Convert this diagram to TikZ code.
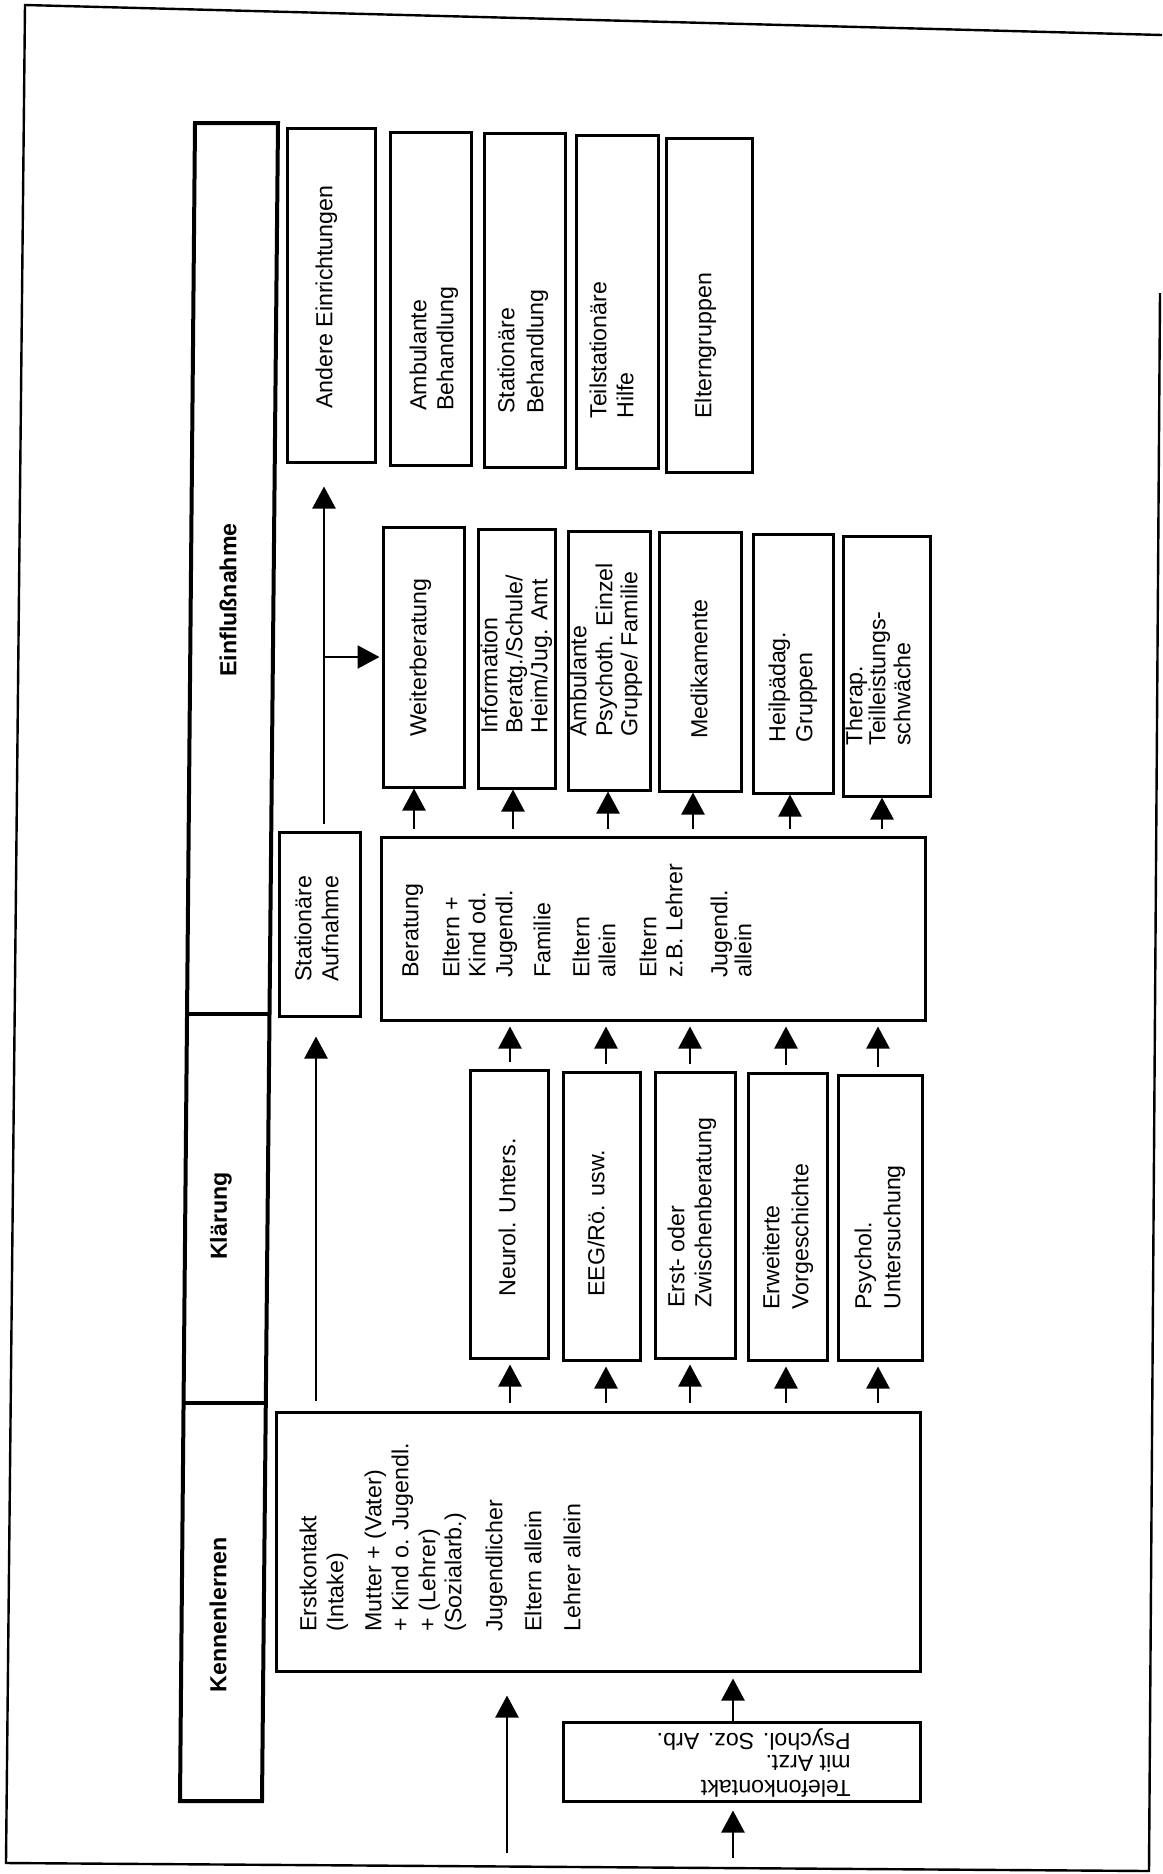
\documentclass[tikz,border=0pt]{standalone}
\usepackage{fontspec}
\setmainfont{Liberation Sans}
\usetikzlibrary{arrows.meta,fit}
\newcommand\fsz{\fontsize{11.6pt}{13.5pt}\selectfont}
\newcommand\rtx[4]{\node[rt] (#1) at (#2,#3) {#4};}
\newcommand\utx[4]{\node[ut] (#1) at (#2,#3) {#4};}
\tikzset{
  box/.style={draw, line width=1.5pt, inner sep=0pt},
  rt/.style={rotate=90, anchor=mid west, inner sep=0pt, font=\fsz},
  ut/.style={rotate=180, anchor=mid west, inner sep=0pt, font=\fsz},
  ph/.style={rotate=90, inner sep=0pt, font=\fsz\bfseries},
  arr/.style={draw, line width=1.2pt, -{Triangle[width=11.5pt,length=11pt]}},
  frame/.style={draw, line width=1.2pt},
  col/.style={draw, line width=2pt, line join=miter}
}
\begin{document}
\begin{tikzpicture}[x=0.5pt, y=-0.5pt]
\useasboundingbox (0,0) rectangle (1162,1874);
% outer frame
\draw[frame] (1162,35) -- (25,5) -- (6,1863) -- (1149,1871) -- (1160,293);
% phase column
\draw[col] (195,123) -- (278,123) -- (262,1801) -- (180,1801) -- cycle;
\draw[col] (187,1014) -- (269.5,1014);
\draw[col] (183.6,1403) -- (265.8,1403);
\node[ph] (pEin) at (228,600) {Einflußnahme};
\node[ph] (pKla) at (221,1216) {Klärung};
\node[ph] (pKen) at (218,1615) {Kennenlernen};

% top row
\node[box, fit={(287,128) (375,462)}] (andere) {};
\node[box, fit={(390,132) (471,465)}] (ambbeh) {};
\node[box, fit={(484,133) (565,467)}] (statbeh) {};
\node[box, fit={(576,135) (658,468)}] (teil) {};
\node[box, fit={(666,138) (752,472)}] (eltern) {};
\rtx{tA1}{327}{409}{Andere Einrichtungen}
\rtx{tB1}{421}{411}{Ambulante}
\rtx{tB2}{448}{411}{Behandlung}
\rtx{tC1}{509}{414}{Stationäre}
\rtx{tC2}{538}{414}{Behandlung}
\rtx{tD1}{601}{419}{Teilstationäre}
\rtx{tD2}{628}{419}{Hilfe}
\rtx{tE1}{706}{419}{Elterngruppen}

% middle row
\node[box, fit={(383,527) (464,787)}] (weiter) {};
\node[box, fit={(478,529) (555,788)}] (info) {};
\node[box, fit={(568,531) (650,790)}] (ambpsy) {};
\node[box, fit={(659,532) (741,791)}] (medi) {};
\node[box, fit={(753,534) (833,793)}] (heil) {};
\node[box, fit={(843,536) (930,796)}] (therap) {};
\rtx{tF1}{421}{737}{Weiterberatung}
\rtx{tG1}{492}{734}{Information}
\rtx{tG2}{517}{734}{Beratg./Schule/}
\rtx{tG3}{542}{734}{Heim/Jug. Amt}
\rtx{tH1}{581}{737}{Ambulante}
\rtx{tH2}{607}{737}{Psychoth. Einzel}
\rtx{tH3}{632}{737}{Gruppe/ Familie}
\rtx{tI1}{702}{739}{Medikamente}
\rtx{tJ1}{780}{743}{Heilpädag.}
\rtx{tJ2}{807}{743}{Gruppen}
\rtx{tK1}{857}{746}{Therap.}
\rtx{tK2}{880}{746}{Teilleistungs-}
\rtx{tK3}{905}{746}{schwäche}

% Stationaere Aufnahme and Beratung
\node[box, fit={(279,832) (360,1016)}] (statauf) {};
\node[box, fit={(381,837) (925,1020)}] (ber) {};
\rtx{tL1}{306}{982}{Stationäre}
\rtx{tL2}{333}{982}{Aufnahme}
\rtx{tM1}{413}{978}{Beratung}
\rtx{tM2}{454}{978}{Eltern +}
\rtx{tM3}{480}{978}{Kind od.}
\rtx{tM4}{507}{978}{Jugendl.}
\rtx{tM5}{545}{978}{Familie}
\rtx{tM6}{584}{978}{Eltern}
\rtx{tM7}{610}{978}{allein}
\rtx{tM8}{651}{978}{Eltern}
\rtx{tM9}{677}{978}{z.B. Lehrer}
\rtx{tM10}{722}{978}{Jugendl.}
\rtx{tM11}{746}{978}{allein}

% Klaerung row
\node[box, fit={(470,1070) (548,1358)}] (neuro) {};
\node[box, fit={(563,1072) (640,1360)}] (eeg) {};
\node[box, fit={(655,1072) (735,1358)}] (erst) {};
\node[box, fit={(748,1073) (827,1360)}] (erw) {};
\node[box, fit={(838,1075) (922,1360)}] (psy) {};
\rtx{tN1}{510}{1297}{Neurol. Unters.}
\rtx{tO1}{599}{1297}{EEG/Rö. usw.}
\rtx{tP1}{679}{1308}{Erst- oder}
\rtx{tP2}{706}{1308}{Zwischenberatung}
\rtx{tQ1}{774}{1310}{Erweiterte}
\rtx{tQ2}{803}{1310}{Vorgeschichte}
\rtx{tR1}{866}{1310}{Psychol.}
\rtx{tR2}{895}{1310}{Untersuchung}

% Kennenlernen
\node[box, fit={(276,1412) (920,1671)}] (ken) {};
\rtx{tS1}{311}{1632}{Erstkontakt}
\rtx{tS2}{338}{1632}{(Intake)}
\rtx{tS3}{376}{1632}{Mutter + (Vater)}
\rtx{tS4}{403}{1632}{+ Kind o. Jugendl.}
\rtx{tS5}{430}{1632}{+ (Lehrer)}
\rtx{tS6}{456}{1632}{(Sozialarb.)}
\rtx{tS7}{497}{1632}{Jugendlicher}
\rtx{tS8}{536}{1632}{Eltern allein}
\rtx{tS9}{575}{1632}{Lehrer allein}

% Telefonkontakt
\node[box, fit={(563,1722) (920,1801)}] (tel) {};
\utx{tT1}{851}{1786}{Telefonkontakt}
\utx{tT2}{851}{1761}{mit Arzt.}
\utx{tT3}{851}{1739}{Psychol. Soz. Arb.}

% arrows Beratung -> Einflussnahme boxes
\foreach \x/\n in {414/weiter, 513/info, 608/ambpsy, 693/medi, 790/heil, 882/therap}
  \draw[arr, shorten <=3.5pt] (ber.north -| \x,0) -- (\n.south -| \x,0);
% arrows Klaerung -> Beratung
\foreach \x/\n in {510/neuro, 606/eeg, 690/erst, 786/erw, 878/psy}
  \draw[arr, shorten <=3.5pt, shorten >=2.5pt] (\n.north -| \x,0) -- (ber.south -| \x,0);
% arrows Kennenlernen -> Klaerung
\foreach \x/\n in {510/neuro, 606/eeg, 690/erst, 786/erw, 878/psy}
  \draw[arr, shorten <=4pt, shorten >=2.5pt] (ken.north -| \x,0) -- (\n.south -| \x,0);
% Kennenlernen -> Stationaere Aufnahme
\draw[arr, shorten <=5pt, shorten >=9.5pt] (ken.north -| 316,0) -- (statauf.south -| 316,0);
% Stationaere Aufnahme -> Andere Einrichtungen, branch to Weiterberatung
\draw[arr, shorten <=3.5pt, shorten >=11.5pt] (statauf.north -| 324,0) -- (andere.south -| 324,0);
\coordinate (br) at (324,657);
\draw[arr, shorten >=1pt] (br) -- (br -| weiter.west);
% Telefonkontakt and inputs
\draw[arr, shorten >=3pt] (tel.north -| 733,0) -- (ken.south -| 733,0);
\coordinate (inA) at (733,1858);
\draw[arr, shorten >=4pt] (inA) -- (tel.south -| inA);
\coordinate (inB) at (507,1853);
\draw[arr, shorten >=11.5pt] (inB) -- (ken.south -| inB);
\end{tikzpicture}
\end{document}
